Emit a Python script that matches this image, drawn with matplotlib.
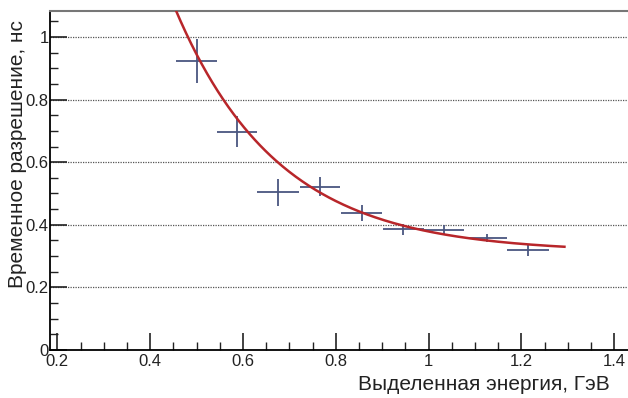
import numpy as np
import matplotlib
matplotlib.use('Agg')
import matplotlib.pyplot as plt
from matplotlib.ticker import MultipleLocator

# measured points (energy bins) and their errors
energy = [0.500, 0.587, 0.676, 0.766, 0.856, 0.946, 1.033, 1.126, 1.215]
resolution = [0.923, 0.697, 0.504, 0.522, 0.437, 0.386, 0.383, 0.359, 0.319]
energy_err = [0.044, 0.044, 0.045, 0.044, 0.044, 0.044, 0.043, 0.044, 0.045]
resolution_err = [0.069, 0.050, 0.043, 0.030, 0.025, 0.018, 0.016, 0.013, 0.018]

# fit: c + A*exp(-k*E)
fit_c = 0.312
fit_A = 6.0
fit_k = 4.5
fit_range = (0.44, 1.293)

plt.rcParams['font.family'] = ['Liberation Sans', 'DejaVu Sans']

fig = plt.figure(figsize=(6.28, 3.98), dpi=100)
ax = fig.add_axes([50 / 628, 48 / 398, 578 / 628, 339 / 398])

# dotted horizontal grid
for yv in [0.2, 0.4, 0.6, 0.8, 1.0]:
    ax.axhline(yv, color='#555555', linestyle=(0, (1, 1)), linewidth=0.9, zorder=1)

ax.errorbar(energy, resolution, xerr=energy_err, yerr=resolution_err,
            fmt='none', ecolor='#4a5680', elinewidth=1.3, capsize=0, zorder=2)

e_fit = np.linspace(fit_range[0], fit_range[1], 300)
ax.plot(e_fit, fit_c + fit_A * np.exp(-fit_k * e_fit), color='#b8262a', linewidth=1.8, zorder=3)

ax.set_xlim(0.184, 1.43)
ax.set_ylim(0, 1.083)

ax.xaxis.set_minor_locator(MultipleLocator(0.05))
ax.yaxis.set_minor_locator(MultipleLocator(0.05))
ax.set_xticks([0.2, 0.4, 0.6, 0.8, 1.0, 1.2, 1.4])
ax.set_xticklabels(['0.2', '0.4', '0.6', '0.8', '1', '1.2', '1.4'])
ax.set_yticks([0, 0.2, 0.4, 0.6, 0.8, 1.0])
ax.set_yticklabels(['0', '0.2', '0.4', '0.6', '0.8', '1'])

ax.tick_params(which='major', direction='in', length=12, width=1.2, labelsize=12, color='#222222')
ax.tick_params(which='minor', direction='in', length=6, width=1.0, color='#222222')
ax.tick_params(axis='x', pad=3)
ax.tick_params(axis='y', pad=1)
for lab in ax.get_xticklabels() + ax.get_yticklabels():
    lab.set_family(['Liberation Sans Narrow', 'Liberation Sans'])
    lab.set_color('#222222')

ax.spines['right'].set_visible(False)
ax.spines['top'].set_color('#777777')
ax.spines['top'].set_linewidth(1.5)
ax.spines['left'].set_linewidth(1.3)
ax.spines['bottom'].set_linewidth(1.3)

fig.text(610 / 628, 1 - 385 / 398, 'Выделенная энергия, ГэВ', fontsize=15,
         ha='right', va='center', color='#222222')
fig.text(18 / 628, 1 - 20 / 398, 'Временное разрешение, нс', fontsize=15,
         rotation=90, ha='center', va='top', color='#222222')

fig.savefig('out.png', dpi=100)
